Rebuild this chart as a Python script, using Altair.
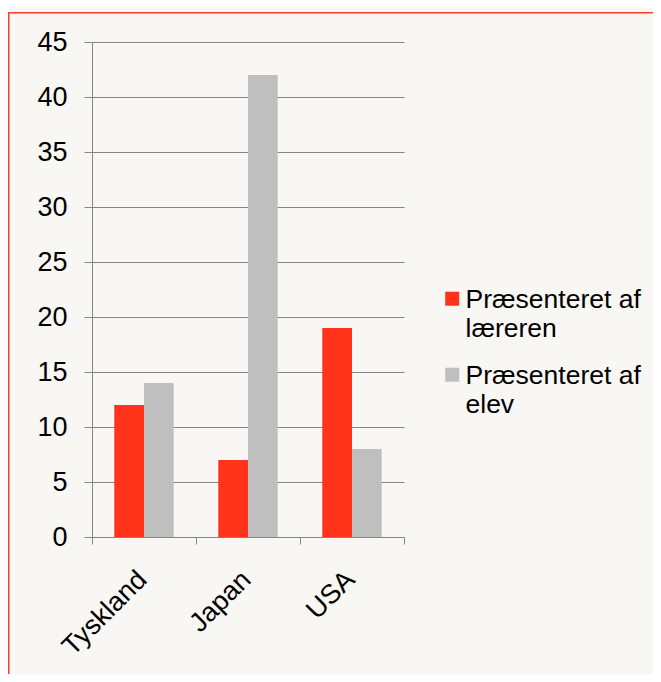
import altair as alt
import pandas as pd

categories = ["Tyskland", "Japan", "USA"]
series = ["Præsenteret af læreren", "Præsenteret af elev"]
laereren = [12, 7, 19]
elev = [14, 42, 8]
y_ticks = [0, 5, 10, 15, 20, 25, 30, 35, 40, 45]
colors = ["#ff3319", "#bfbfbf"]

rows = []
for c, a, b in zip(categories, laereren, elev):
    rows.append({"land": c, "serie": series[0], "v": a})
    rows.append({"land": c, "serie": series[1], "v": b})
df = pd.DataFrame(rows)

FONT = "Liberation Sans"
FS = 27
GRID = "#868686"
BG = "#f8f7f4"

bars = alt.Chart(df).mark_bar().encode(
    x=alt.X(
        "land:N",
        sort=categories,
        scale=alt.Scale(paddingInner=0, paddingOuter=0),
        axis=alt.Axis(
            title=None, labelAngle=-45, tickBand="extent", grid=False,
            labelFont=FONT, labelFontSize=FS, labelColor="#000000",
            domainColor=GRID, tickColor=GRID, tickSize=7,
            labelPadding=22, labelOffset=-11,
        ),
    ),
    xOffset=alt.XOffset("serie:N", sort=series,
                        scale=alt.Scale(paddingInner=0, paddingOuter=0.75)),
    y=alt.Y(
        "v:Q",
        scale=alt.Scale(domain=[0, 45], nice=False),
        axis=alt.Axis(
            title=None, values=y_ticks, grid=True, gridColor=GRID,
            labelFont=FONT, labelFontSize=FS, labelColor="#000000",
            domainColor=GRID, tickColor=GRID, tickSize=8, labelPadding=17,
        ),
    ),
    color=alt.Color(
        "serie:N",
        sort=series,
        scale=alt.Scale(domain=series, range=colors),
        legend=alt.Legend(
            title=None, orient="none", legendX=347, legendY=253,
            symbolType="M-1,-2.36H1V-0.36H-1Z", symbolSize=196,
            symbolStrokeWidth=0, labelFont=FONT, labelFontSize=26.5,
            labelColor="#000000", labelLimit=400, labelOffset=0,
            labelBaseline="alphabetic", rowPadding=20, padding=0,
            labelExpr="split(replace(datum.label, ' af ', ' af|'), '|')",
        ),
    ),
)

border = alt.Chart(alt.Data(values=[{}])).mark_rect(
    filled=False, stroke="#ff3b2a", strokeWidth=1.5
).encode(
    x=alt.value(-83.25), x2=alt.value(700),
    y=alt.value(-29.25), y2=alt.value(800),
)

chart = alt.layer(border, bars).properties(
    width=312, height=495,
    autosize=alt.AutoSizeParams(type="none"),
    padding={"left": 84, "top": 34, "right": 249, "bottom": 137},
    background=BG,
).configure_view(stroke=None)

chart.save("out.html", embed_options={"renderer": "svg", "actions": False})
